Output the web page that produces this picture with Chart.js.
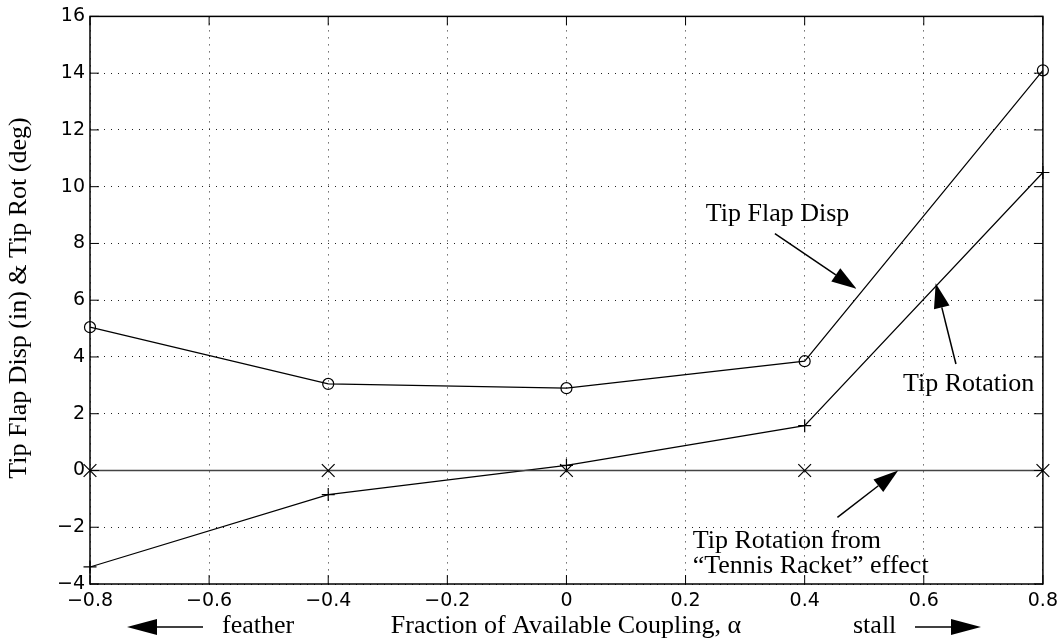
<!DOCTYPE html>
<html>
<head>
<meta charset="utf-8">
<script src="https://cdn.jsdelivr.net/npm/chart.js@4.4.1/dist/chart.umd.min.js"></script>
<style>
    body { margin: 0; background: #fff; }
    #wrap { width: 1064px; height: 640px; position: relative; }
</style>
</head>
<body>
<div id="wrap"><canvas id="couplingChart"></canvas></div>
<script>
//--------------------------------------------Data

const alpha = [-0.8, -0.4, 0, 0.4, 0.8];
const tipFlapDisp = [5.05, 3.05, 2.9, 3.85, 14.1];
const tipRotation = [-3.4, -0.85, 0.18, 1.58, 10.5];
const tennisRacket = [0, 0, 0, 0, 0];

const xTickLabels = ['\u22120.8', '\u22120.6', '\u22120.4', '\u22120.2', '0', '0.2', '0.4', '0.6', '0.8'];
const yTickLabels = ['\u22124', '\u22122', '0', '2', '4', '6', '8', '10', '12', '14', '16'];

// callouts in data units: text lines, text anchor (left, baseline), arrow tail -> head
const callouts = [
    { lines: ['Tip Flap Disp'], x: 0.234, y: 8.78, from: [0.35, 8.35], to: [0.487, 6.4] },
    { lines: ['Tip Rotation'], x: 0.565, y: 2.79, from: [0.654, 3.75], to: [0.62, 6.6] },
    { lines: ['Tip Rotation from', '\u201CTennis Racket\u201D effect'], x: 0.212, y: -2.74, from: [0.455, -1.65], to: [0.557, 0] },
];

//--------------------------------------------Helpers

const serif = '"Liberation Serif", "Times New Roman", serif';
const sans = '"DejaVu Sans", "Liberation Sans", sans-serif';

function arrow(ctx, x1, y1, x2, y2, head, half) {
    const a = Math.atan2(y2 - y1, x2 - x1);
    const bx = x2 - Math.cos(a) * head;
    const by = y2 - Math.sin(a) * head;
    ctx.beginPath();
    ctx.moveTo(x1, y1);
    ctx.lineTo(bx, by);
    ctx.stroke();
    ctx.beginPath();
    ctx.moveTo(x2, y2);
    ctx.lineTo(bx + Math.sin(a) * half, by - Math.cos(a) * half);
    ctx.lineTo(bx - Math.sin(a) * half, by + Math.cos(a) * half);
    ctx.closePath();
    ctx.fill();
}

const decorations = {
    id: 'decorations',
    afterDraw(chart) {
        const { ctx, chartArea: area, scales } = chart;
        const xs = scales.x, ys = scales.y;
        ctx.save();
        ctx.strokeStyle = '#000';
        ctx.fillStyle = '#000';

        // frame + inward ticks
        ctx.lineWidth = 1.5;
        ctx.strokeRect(area.left, area.top, area.right - area.left, area.bottom - area.top);
        ctx.lineWidth = 1;
        ctx.beginPath();
        for (let i = 0; i < xTickLabels.length; i++) {
            const px = xs.getPixelForValue(-0.8 + i * 0.2);
            ctx.moveTo(px, area.bottom); ctx.lineTo(px, area.bottom - 9);
            ctx.moveTo(px, area.top); ctx.lineTo(px, area.top + 9);
        }
        for (let i = 0; i < yTickLabels.length; i++) {
            const py = ys.getPixelForValue(-4 + i * 2);
            ctx.moveTo(area.left, py); ctx.lineTo(area.left + 9, py);
            ctx.moveTo(area.right, py); ctx.lineTo(area.right - 9, py);
        }
        ctx.stroke();

        // callouts
        ctx.font = '26px ' + serif;
        ctx.textBaseline = 'alphabetic';
        ctx.textAlign = 'left';
        ctx.lineWidth = 1.5;
        callouts.forEach(c => {
            const tx = xs.getPixelForValue(c.x);
            const ty = ys.getPixelForValue(c.y);
            c.lines.forEach((line, k) => ctx.fillText(line, tx, ty + k * 25));
            arrow(ctx,
                xs.getPixelForValue(c.from[0]), ys.getPixelForValue(c.from[1]),
                xs.getPixelForValue(c.to[0]), ys.getPixelForValue(c.to[1]), 25, 8);
        });

        // x axis title and direction hints
        ctx.textAlign = 'center';
        ctx.fillText('Fraction of Available Coupling, \u03B1', 566, 633);
        ctx.textAlign = 'left';
        ctx.fillText('feather', 222, 633);
        ctx.fillText('stall', 853, 633);
        arrow(ctx, 203, 627, 127, 627, 30, 8);
        arrow(ctx, 915, 627, 981, 627, 30, 8);

        // y axis title
        ctx.translate(26, 298);
        ctx.rotate(-Math.PI / 2);
        ctx.textAlign = 'center';
        ctx.fillText('Tip Flap Disp (in) & Tip Rot (deg)', 0, 0);
        ctx.restore();
    }
};

//--------------------------------------------Chart

const lineSet = (label, values, style, radius, color, width) => ({
    label: label,
    data: alpha.map((a, i) => ({ x: a, y: values[i] })),
    borderColor: color,
    borderWidth: width,
    pointStyle: style,
    pointRadius: radius,
    pointBorderColor: '#000',
    pointBackgroundColor: 'rgba(255,255,255,0)',
    pointBorderWidth: 1.2,
    tension: 0,
    fill: false,
    clip: false,
});

const config = {
    type: 'line',
    data: {
        datasets: [
            lineSet('Tip Rotation from "Tennis Racket" effect', tennisRacket, 'crossRot', 9, '#444', 1.6),
            lineSet('Tip Flap Disp', tipFlapDisp, 'circle', 5.5, '#000', 1.2),
            lineSet('Tip Rotation', tipRotation, 'cross', 6.5, '#000', 1.2),
        ]
    },
    options: {
        responsive: true,
        maintainAspectRatio: false,
        animation: false,
        layout: { padding: { top: 13, right: 21, left: 0, bottom: 0 } },
        plugins: {
            legend: { display: false },
            title: { display: false },
            tooltip: { enabled: false }
        },
        scales: {
            x: {
                type: 'linear',
                min: -0.8,
                max: 0.8,
                border: { display: false, dash: [1, 6] },
                grid: { color: '#222', lineWidth: 1, drawTicks: false },
                ticks: {
                    stepSize: 0.2,
                    padding: 6,
                    maxRotation: 0,
                    color: '#000',
                    font: { family: sans, size: 19 },
                    callback: (v, i) => xTickLabels[i]
                },
                afterFit: (s) => { s.height = 56; }
            },
            y: {
                min: -4,
                max: 16,
                border: { display: false, dash: [1, 6] },
                grid: { color: '#222', lineWidth: 1, drawTicks: false },
                ticks: {
                    stepSize: 2,
                    padding: 5,
                    color: '#000',
                    font: { family: sans, size: 19 },
                    callback: (v, i) => yTickLabels[i]
                },
                afterFit: (s) => { s.width = 90; }
            }
        }
    },
    plugins: [decorations]
};

new Chart(document.getElementById('couplingChart'), config);
</script>
</body>
</html>
